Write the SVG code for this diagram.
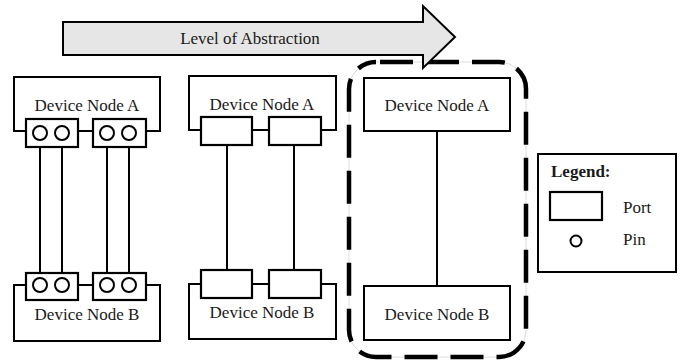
<svg xmlns="http://www.w3.org/2000/svg" width="686" height="360" viewBox="0 0 686 360">
<style>
.box{fill:#fff;stroke:#000;stroke-width:2}
.port{fill:#fff;stroke:#000;stroke-width:2.2}
.pin{fill:#fff;stroke:#000;stroke-width:2}
.wire{fill:none;stroke:#000;stroke-width:2}
.t{font-family:"Liberation Serif","Times New Roman",serif;font-size:17px;fill:#1a1a1a}
.c{text-anchor:middle}
</style>
<rect width="686" height="360" fill="#fff"/>
<g id="abstraction-frame">
<rect x="349" y="62" width="177" height="295" rx="27" fill="none" stroke="#dcdcdc" stroke-width="1"/>
<rect x="349" y="62" width="177" height="295" rx="27" fill="none" stroke="#000" stroke-width="4.5" stroke-dasharray="33 13" stroke-dashoffset="-4"/>
</g>
<g id="abstraction-arrow">
<polygon points="63,22 423,22 423,6 455,37 423,68 423,55 63,55" fill="#e6e6e6" stroke="#000" stroke-width="2"/>
<text class="t c" x="250" y="44">Level of Abstraction</text>
</g>
<g id="connectors">
<line class="wire" x1="40" y1="140" x2="40" y2="278"/>
<line class="wire" x1="62" y1="140" x2="62" y2="278"/>
<line class="wire" x1="107" y1="140" x2="107" y2="278"/>
<line class="wire" x1="129" y1="140" x2="129" y2="278"/>
<line class="wire" x1="227" y1="145" x2="227" y2="270"/>
<line class="wire" x1="294" y1="145" x2="294" y2="270"/>
<line class="wire" x1="437" y1="131" x2="437" y2="286"/>
</g>
<g id="pin-node-a">
<rect class="box" x="14" y="77" width="146" height="54"/>
<text class="t c" x="87" y="111">Device Node A</text>
<rect class="port" x="26" y="119" width="52" height="28"/>
<rect class="port" x="93" y="119" width="53" height="28"/>
<circle class="pin" cx="40" cy="133" r="7"/>
<circle class="pin" cx="62" cy="133" r="7"/>
<circle class="pin" cx="107" cy="133" r="7"/>
<circle class="pin" cx="129" cy="133" r="7"/>
</g>
<g id="pin-node-b">
<rect class="box" x="14" y="285" width="146" height="56"/>
<text class="t c" x="87" y="320">Device Node B</text>
<rect class="port" x="26" y="273" width="52" height="27"/>
<rect class="port" x="93" y="273" width="53" height="27"/>
<circle class="pin" cx="40" cy="285" r="7"/>
<circle class="pin" cx="62" cy="285" r="7"/>
<circle class="pin" cx="107" cy="285" r="7"/>
<circle class="pin" cx="129" cy="285" r="7"/>
</g>
<g id="port-node-a">
<rect class="box" x="189" y="76" width="147" height="54"/>
<text class="t c" x="262" y="110">Device Node A</text>
<rect class="port" x="201" y="117" width="51" height="28"/>
<rect class="port" x="269" y="117" width="52" height="28"/>
</g>
<g id="port-node-b">
<rect class="box" x="189" y="284" width="147" height="55"/>
<text class="t c" x="262" y="318">Device Node B</text>
<rect class="port" x="201" y="270" width="51" height="28"/>
<rect class="port" x="269" y="270" width="52" height="28"/>
</g>
<g id="node-a">
<rect class="box" x="364" y="78" width="146" height="53"/>
<text class="t c" x="437" y="111">Device Node A</text>
</g>
<g id="node-b">
<rect class="box" x="364" y="286" width="146" height="54"/>
<text class="t c" x="437" y="320">Device Node B</text>
</g>
<g id="legend">
<rect class="box" x="538" y="154" width="138" height="118"/>
<text class="t" x="551" y="177" font-weight="bold">Legend:</text>
<rect class="port" x="550" y="192" width="52" height="28"/>
<text class="t" x="623" y="213">Port</text>
<circle class="pin" cx="576" cy="241" r="5.5"/>
<text class="t" x="623" y="245">Pin</text>
</g>
</svg>
